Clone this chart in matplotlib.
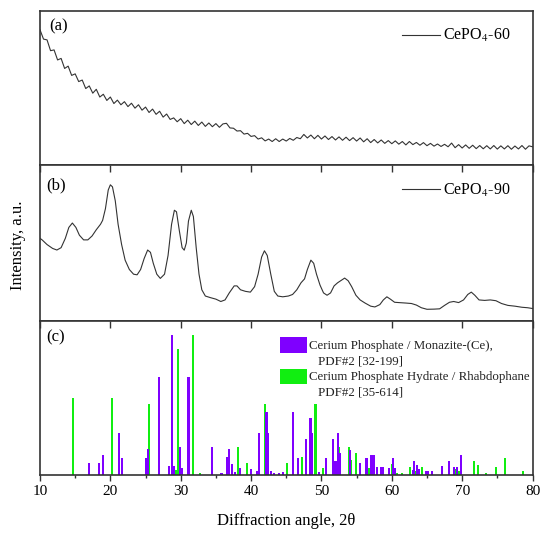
import matplotlib.pyplot as plt
import numpy as np
from matplotlib.patches import Rectangle
from matplotlib.ticker import MultipleLocator

plt.rcParams['font.family'] = ['Liberation Serif', 'DejaVu Serif']
plt.rcParams['mathtext.fontset'] = 'stix'

# (a) CePO4-60, normalised intensity, 0.5 deg steps from 10 to 80
angle_a = np.arange(10, 80.5, 0.5)
int_a = [0.875, 0.815, 0.81, 0.74, 0.745, 0.68, 0.69, 0.625, 0.64, 0.58,
         0.59, 0.54, 0.55, 0.495, 0.512, 0.465, 0.49, 0.44, 0.458, 0.418,
         0.44, 0.398, 0.42, 0.39, 0.41, 0.378, 0.40, 0.368, 0.39, 0.355,
         0.375, 0.34, 0.362, 0.328, 0.348, 0.31, 0.33, 0.295, 0.305, 0.28,
         0.30, 0.268, 0.29, 0.262, 0.284, 0.256, 0.278, 0.25, 0.272, 0.248,
         0.268, 0.244, 0.266, 0.27, 0.24, 0.238, 0.22, 0.222, 0.2, 0.205,
         0.185, 0.19, 0.168, 0.176, 0.156, 0.168, 0.152, 0.17, 0.152, 0.168,
         0.155, 0.172, 0.16, 0.178, 0.17, 0.198, 0.175, 0.194, 0.17, 0.192,
         0.168, 0.188, 0.165, 0.184, 0.162, 0.182, 0.16, 0.18, 0.158, 0.177,
         0.155, 0.175, 0.15, 0.17, 0.145, 0.165, 0.143, 0.162, 0.14, 0.158,
         0.138, 0.156, 0.135, 0.152, 0.13, 0.152, 0.132, 0.146, 0.128, 0.145,
         0.125, 0.14, 0.122, 0.136, 0.12, 0.134, 0.118, 0.142, 0.112, 0.132,
         0.11, 0.13, 0.108, 0.128, 0.106, 0.126, 0.105, 0.125, 0.104, 0.126,
         0.103, 0.124, 0.104, 0.125, 0.102, 0.123, 0.104, 0.126, 0.102, 0.124,
         0.118]

# (b) CePO4-90
angle_b = [10.0, 10.3, 11.0, 11.8, 12.4, 13.0, 13.6, 14.1, 14.6, 15.1, 15.6, 16.2,
           16.8, 17.4, 18.0, 18.6, 18.9, 19.3, 19.7, 20.0, 20.3, 20.7, 21.1, 21.6,
           22.1, 22.7, 23.3, 23.8, 24.3, 24.8, 25.3, 25.7, 26.1, 26.6, 27.1, 27.7,
           28.2, 28.7, 29.1, 29.4, 29.8, 30.2, 30.5, 30.8, 31.1, 31.5, 31.8, 32.2,
           32.6, 33.0, 33.5, 34.2, 35.0, 35.7, 36.3, 36.9, 37.6, 38.0, 38.5, 39.2,
           39.9, 40.5, 41.0, 41.5, 41.9, 42.3, 42.8, 43.3, 43.8, 44.5, 45.3, 45.9,
           46.5, 47.1, 47.6, 48.0, 48.5, 48.9, 49.3, 49.8, 50.3, 50.8, 51.3, 51.8,
           52.3, 52.8, 53.3, 53.8, 54.3, 54.9, 55.5, 56.2, 57.0, 57.6, 58.3, 58.8,
           59.3, 59.8, 60.4, 61.0, 62.0, 62.8, 63.5, 64.2, 65.0, 66.0, 66.8, 67.5,
           68.2, 68.8, 69.5, 70.2, 70.8, 71.3, 71.8, 72.4, 73.2, 74.0, 74.8, 75.6,
           76.5, 77.5, 78.5, 79.3, 80.0]
int_b = [0.53, 0.52, 0.49, 0.465, 0.455, 0.47, 0.53, 0.60, 0.628, 0.60, 0.55, 0.52,
         0.52, 0.545, 0.585, 0.62, 0.645, 0.72, 0.84, 0.873, 0.86, 0.77, 0.62, 0.49,
         0.39, 0.33, 0.30, 0.296, 0.33, 0.40, 0.455, 0.44, 0.37, 0.30, 0.273, 0.30,
         0.42, 0.62, 0.71, 0.70, 0.58, 0.47, 0.454, 0.50, 0.64, 0.71, 0.67, 0.47,
         0.30, 0.20, 0.16, 0.15, 0.14, 0.125, 0.135, 0.18, 0.225, 0.225, 0.20, 0.19,
         0.185, 0.22, 0.30, 0.41, 0.45, 0.42, 0.30, 0.19, 0.16, 0.155, 0.16, 0.17,
         0.20, 0.245, 0.27, 0.33, 0.39, 0.37, 0.30, 0.23, 0.18, 0.165, 0.18, 0.225,
         0.245, 0.26, 0.275, 0.258, 0.22, 0.165, 0.135, 0.115, 0.095, 0.09, 0.105, 0.135,
         0.155, 0.14, 0.12, 0.118, 0.115, 0.112, 0.102, 0.085, 0.075, 0.076, 0.078, 0.10,
         0.12, 0.125, 0.118, 0.135, 0.17, 0.185, 0.165, 0.135, 0.132, 0.135, 0.13, 0.112,
         0.10, 0.095, 0.088, 0.085, 0.08]

# (c) reference patterns
monazite_pos = [17.0, 18.4, 18.9, 21.2, 21.6, 25.07, 25.3, 26.9, 28.3, 28.76, 29.1,
                29.85, 30.2, 31.1, 34.4, 35.8, 36.6, 36.8, 37.3, 37.7, 38.4, 40.0,
                40.8, 41.1, 42.2, 42.4, 42.8, 43.2, 44.0, 44.5, 46.0, 46.7, 47.8,
                48.45, 48.7, 49.7, 50.65, 51.7, 52.0, 52.35, 52.7, 54.1, 55.5, 56.4,
                57.0, 57.4, 57.9, 58.5, 58.8, 59.6, 60.2, 60.4, 63.0, 63.2, 63.6,
                63.9, 64.9, 65.2, 65.7, 67.2, 68.1, 68.9, 69.25, 69.8]
monazite_int = [7.5, 7.5, 12.9, 27.5, 11.2, 10.8, 16.6, 63.9, 5.8, 91, 5.8,
                18.4, 4.7, 63.9, 18.4, 1.2, 11.5, 16.7, 7.1, 2.2, 4.3, 3.7,
                2.8, 27.5, 41.1, 27.5, 2.8, 1.5, 1.2, 2.2, 41.1, 10.8, 23.4,
                36.8, 27.5, 2.2, 10.8, 23.4, 9.3, 27.5, 14, 16.2, 7.6, 10.8,
                13, 13, 5.4, 5.4, 5.4, 4.3, 10.8, 4.3, 3.2, 9.3, 6.5,
                3.7, 2.8, 2.6, 2.6, 5.8, 9.3, 5.4, 5.4, 13]
rhabdo_pos = [14.65, 20.28, 25.54, 29.4, 29.57, 31.7, 32.7, 38.2, 39.4, 41.1, 42.0,
              42.4, 45.05, 47.3, 49.15, 50.2, 52.45, 53.9, 54.25, 54.9, 56.7, 60.0,
              60.7, 61.4, 62.6, 63.4, 64.25, 69.1, 69.5, 71.7, 72.25, 73.4, 74.8,
              76.1, 78.6]
rhabdo_int = [50.1, 50.1, 45.8, 3, 81.7, 91, 1.2, 18.4, 7.6, 3.7, 46.1,
              9.3, 7.6, 11.9, 46.1, 4.3, 18, 18.4, 9.7, 14, 4.3, 7.1,
              1.2, 1.2, 5.4, 2.8, 5.4, 3.7, 2.8, 9.3, 6.5, 1.5, 5.4,
              10.8, 2.8]

purple = '#7f00ff'
green = '#11ee11'
dark = '#333333'

fig = plt.figure(figsize=(5.5, 5.34), dpi=100)
left, width = 40 / 550, 492.5 / 550
ax_a = fig.add_axes([left, 0.691, width, 0.2893])
ax_b = fig.add_axes([left, 0.3989, width, 0.2921])
ax_c = fig.add_axes([left, 0.1105, width, 0.2884])

for ax in (ax_a, ax_b, ax_c):
    ax.set_xlim(10, 80)
    ax.set_yticks([])
    for s in ax.spines.values():
        s.set_color(dark)
        s.set_linewidth(1.2)

ax_a.plot(angle_a, int_a, color=dark, lw=0.8, label='CePO$_4$-60')
ax_a.set_ylim(0, 1)
ax_a.set_xticks([])

ax_b.plot(angle_b, int_b, color=dark, lw=0.8, label='CePO$_4$-90')
ax_b.set_ylim(0, 1)
ax_b.xaxis.set_major_locator(MultipleLocator(10))
ax_b.tick_params(axis='x', top=True, bottom=False, direction='in',
                 length=5, width=1, color=dark, labelbottom=False)

ax_c.bar(rhabdo_pos, rhabdo_int, width=0.3, color=green, linewidth=0)
ax_c.bar(monazite_pos, monazite_int, width=0.3, color=purple, linewidth=0)
ax_c.set_ylim(0, 100)

ax_c.xaxis.set_major_locator(MultipleLocator(10))
ax_c.xaxis.set_minor_locator(MultipleLocator(5))
ax_c.tick_params(axis='x', which='major', direction='out', length=4, width=1,
                 color=dark, labelsize=11, pad=3)
ax_c.tick_params(axis='x', which='minor', direction='out', length=2.5, width=1, color=dark)
top_c = ax_c.secondary_xaxis('top')
top_c.xaxis.set_major_locator(MultipleLocator(10))
top_c.tick_params(axis='x', direction='in', length=5, width=1, color=dark, labeltop=False)
top_c.spines['top'].set_visible(False)

# panel letters
ax_a.text(0.018, 0.90, '(a)', transform=ax_a.transAxes, fontsize=12, va='center')
ax_b.text(0.013, 0.87, '(b)', transform=ax_b.transAxes, fontsize=12, va='center')
ax_c.text(0.013, 0.895, '(c)', transform=ax_c.transAxes, fontsize=12, va='center')

for ax in (ax_a, ax_b):
    ax.legend(loc='upper right', bbox_to_anchor=(0.985, 0.985), frameon=False,
              fontsize=11.5, handlelength=2.4, handletextpad=0.2)

# legend of panel c
ax_c.add_patch(Rectangle((0.487, 0.794), 0.055, 0.102, transform=ax_c.transAxes,
                         color=purple, lw=0))
ax_c.add_patch(Rectangle((0.487, 0.589), 0.055, 0.097, transform=ax_c.transAxes,
                         color=green, lw=0))
leg_kw = dict(transform=ax_c.transAxes, fontsize=9.3, va='center', color='#222222')
ax_c.text(0.547, 0.84, 'Cerium Phosphate / Monazite-(Ce),', **leg_kw)
ax_c.text(0.564, 0.74, 'PDF#2 [32-199]', **leg_kw)
ax_c.text(0.547, 0.634, 'Cerium Phosphate Hydrate / Rhabdophane', **leg_kw)
ax_c.text(0.564, 0.534, 'PDF#2 [35-614]', **leg_kw)

ax_c.set_xlabel('Diffraction angle, 2\u03b8', fontsize=12, labelpad=11)
fig.text(0.033, 0.54, 'Intensity, a.u.', rotation=90, fontsize=12, va='center', ha='center')

plt.savefig('out.png', dpi=100)
